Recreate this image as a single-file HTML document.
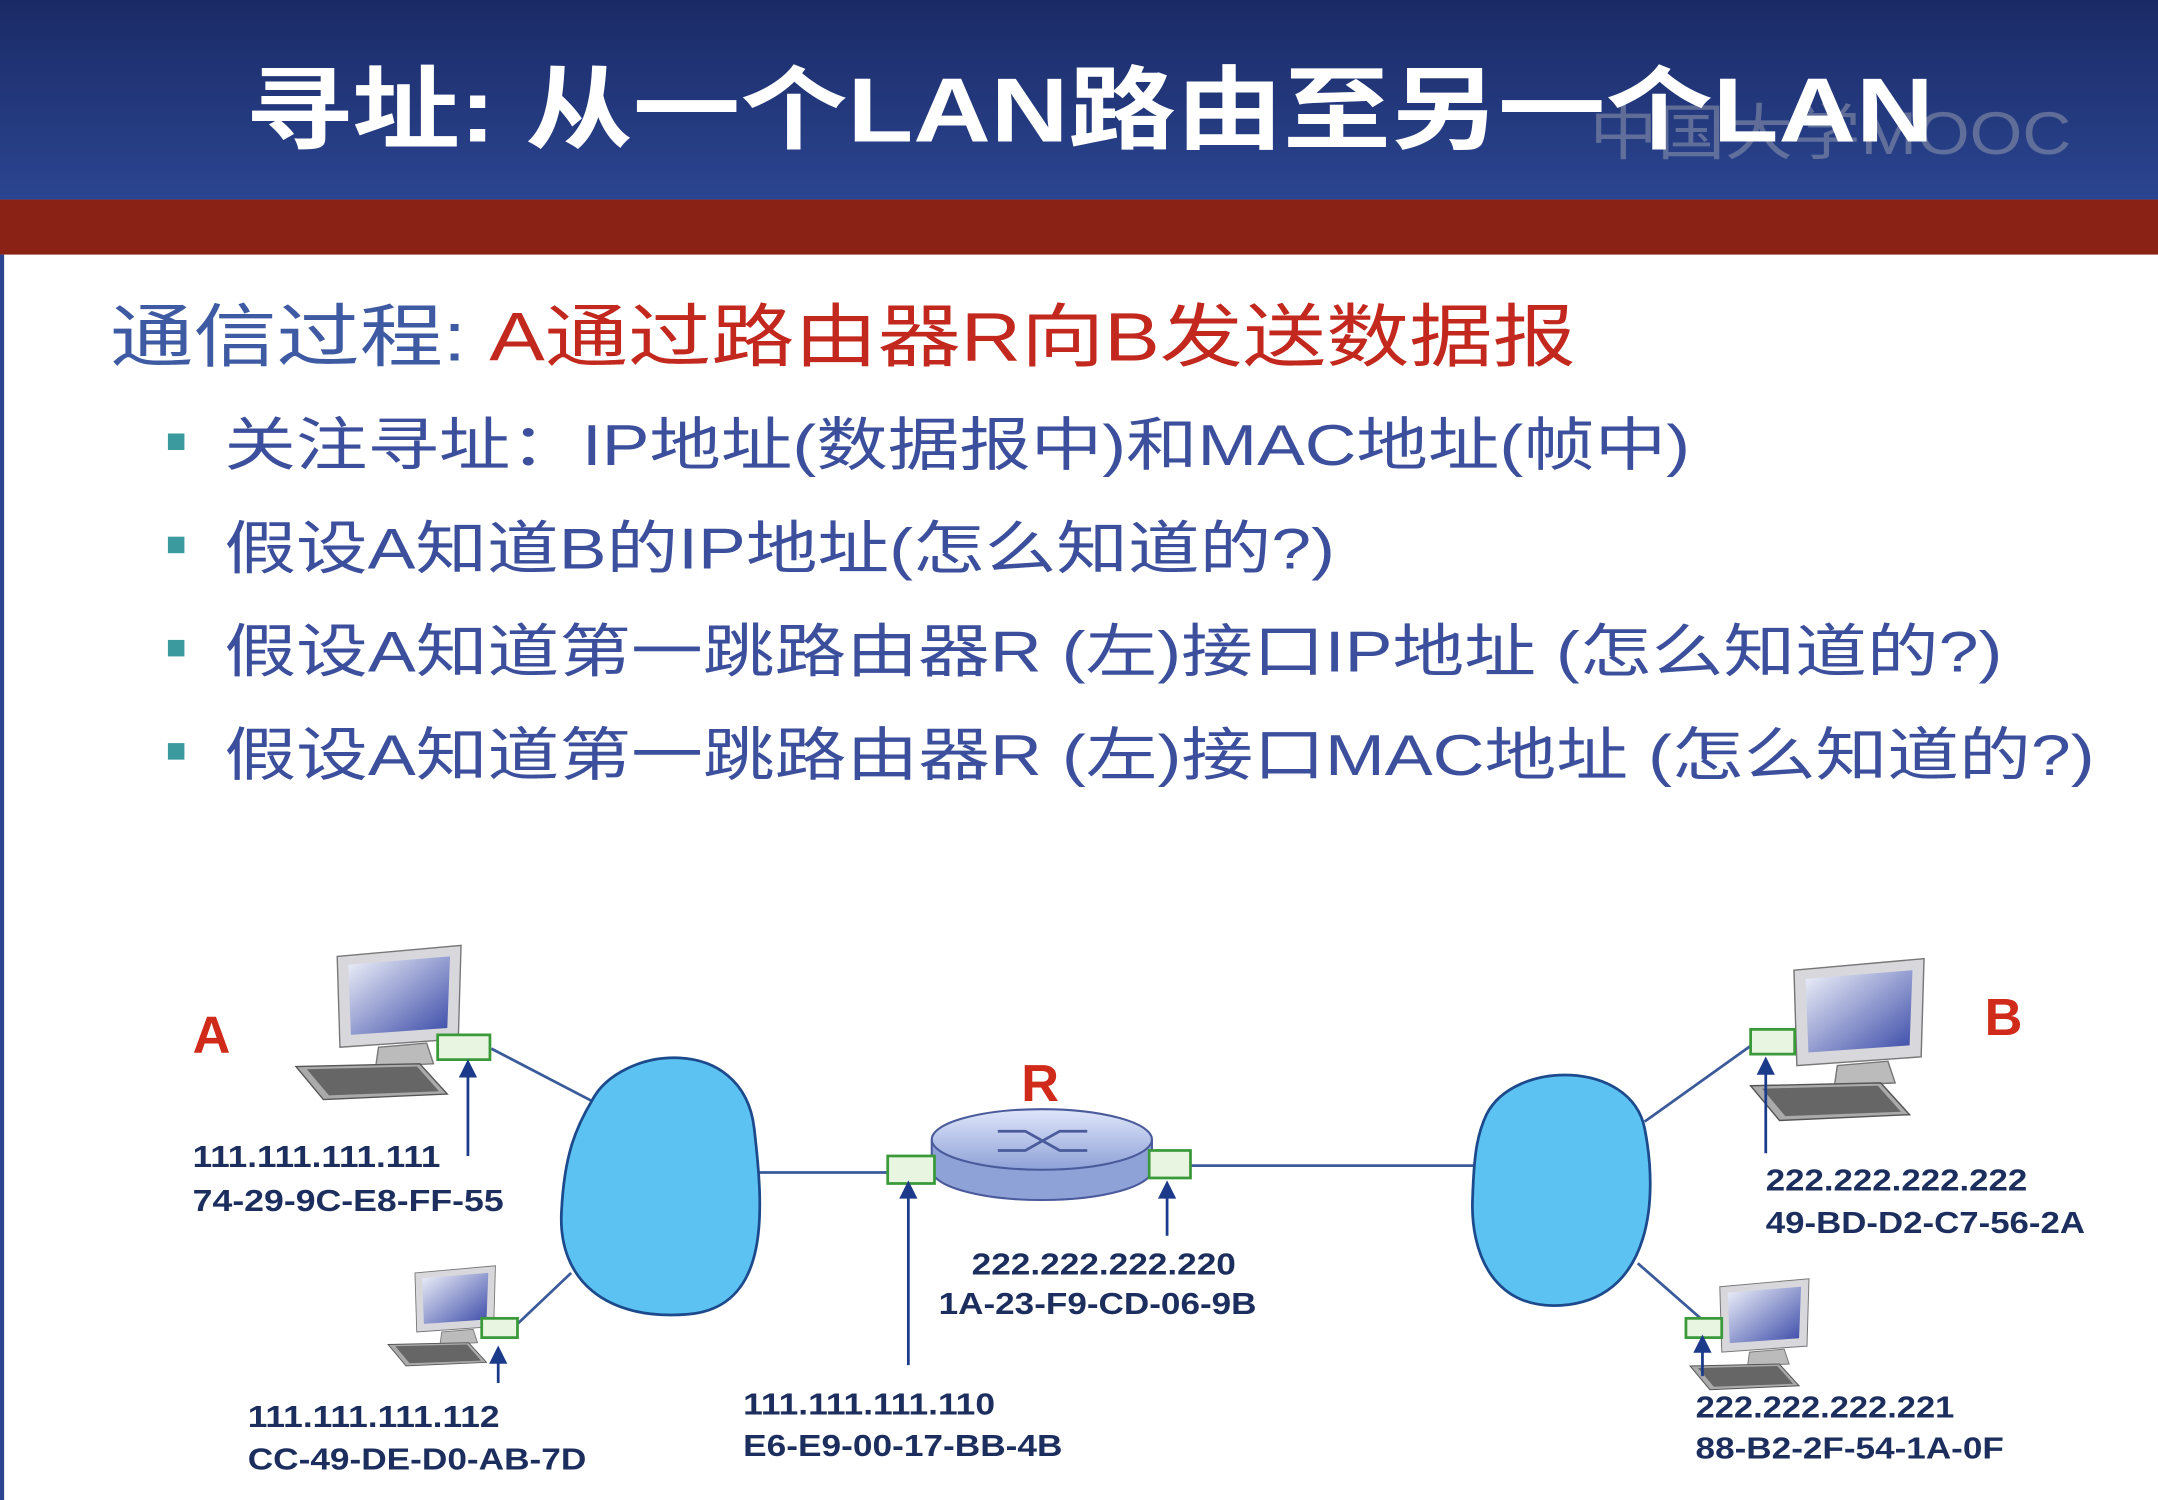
<!DOCTYPE html>
<html><head><meta charset="utf-8"><style>
html,body{margin:0;padding:0;background:#fff;}
svg{display:block;}
text{font-family:"Liberation Sans","Noto Sans CJK SC",sans-serif;}
</style></head><body>
<svg width="2158" height="1500" viewBox="0 0 1568 1090" preserveAspectRatio="none" xmlns="http://www.w3.org/2000/svg">
<defs>
<linearGradient id="hd" x1="0" y1="0" x2="0" y2="1"><stop offset="0" stop-color="#1a2a66"/><stop offset="1" stop-color="#2b4590"/></linearGradient>
<linearGradient id="scr" x1="0" y1="0" x2="1" y2="1"><stop offset="0" stop-color="#f0f2fa"/><stop offset="1" stop-color="#3a4aa8"/></linearGradient>
<linearGradient id="rt" x1="0" y1="0" x2="0" y2="1"><stop offset="0" stop-color="#dfe6fa"/><stop offset="1" stop-color="#8fa2d8"/></linearGradient>
<g id="pc">
<polygon points="30,0 120,-8 118,60 32,66" fill="#d8d8dc" stroke="#777"/>
<polygon points="38,6 112,0 110,52 40,57" fill="url(#scr)"/>
<polygon points="60,66 95,63 100,78 58,80" fill="#bbb" stroke="#777"/>
<polygon points="0,80 90,78 110,100 20,104" fill="#aaa" stroke="#555"/>
<polygon points="8,82 88,80 104,98 24,101" fill="#666"/>
</g>
</defs>
<rect width="1568" height="1090" fill="#fff"/>
<rect width="1568" height="145" fill="url(#hd)"/>
<rect y="145" width="1568" height="40" fill="#8a2215"/>
<text x="1155" y="112" font-size="44" fill="#9aa0b0" opacity="0.5" textLength="350" lengthAdjust="spacingAndGlyphs">中国大学MOOC</text>
<text x="178" y="103" font-size="66" font-weight="bold" fill="#fff" textLength="1227" lengthAdjust="spacingAndGlyphs">寻址: 从一个LAN路由至另一个LAN</text>
<rect x="0" y="185" width="3" height="905" fill="#2b4590"/>
<text x="80" y="262" font-size="50" textLength="1065" lengthAdjust="spacingAndGlyphs"><tspan fill="#3d5aa2">通信过程: </tspan><tspan fill="#c2281d">A通过路由器R向B发送数据报</tspan></text>
<g fill="#3a9a9e"><rect x="122" y="315" width="12" height="12"/><rect x="122" y="390" width="12" height="12"/><rect x="122" y="465" width="12" height="12"/><rect x="122" y="540" width="12" height="12"/></g>
<g font-size="42" fill="#3b4f9c">
<text x="163" y="338" textLength="1065" lengthAdjust="spacingAndGlyphs">关注寻址：IP地址(数据报中)和MAC地址(帧中)</text>
<text x="163" y="413" textLength="807" lengthAdjust="spacingAndGlyphs">假设A知道B的IP地址(怎么知道的?)</text>
<text x="163" y="488" textLength="1292" lengthAdjust="spacingAndGlyphs">假设A知道第一跳路由器R (左)接口IP地址 (怎么知道的?)</text>
<text x="163" y="563" textLength="1359" lengthAdjust="spacingAndGlyphs">假设A知道第一跳路由器R (左)接口MAC地址 (怎么知道的?)</text>
</g>
<g stroke="#3a5a9a" stroke-width="2" fill="none">
<line x1="548" y1="852" x2="645" y2="852"/>
<line x1="865" y1="847" x2="1072" y2="847"/>
<line x1="357" y1="762" x2="430" y2="800"/>
<line x1="376" y1="962" x2="415" y2="925"/>
<line x1="1272" y1="760" x2="1195" y2="815"/>
<line x1="1238" y1="960" x2="1190" y2="918"/>
</g>
<path d="M430,800 C450,760 540,750 548,820 C555,880 560,950 500,955 C440,960 405,930 408,880 C410,840 418,820 430,800Z" fill="#5cc2f2" stroke="#1c4a8c" stroke-width="2"/>
<path d="M1080,810 C1100,770 1185,770 1195,820 C1205,870 1200,940 1140,948 C1085,955 1068,910 1070,870 C1071,840 1073,825 1080,810Z" fill="#5cc2f2" stroke="#1c4a8c" stroke-width="2"/>
<use href="#pc" x="215" y="695"/>
<use href="#pc" transform="translate(282,925) scale(0.65)"/>
<use href="#pc" transform="translate(1272,705) scale(1.05)"/>
<use href="#pc" transform="translate(1228,935) scale(0.72)"/>
<path d="M677,828 L677,850 A80,22 0 0 0 837,850 L837,828" fill="#8fa2d8" stroke="#4a5a9a" stroke-width="1.5"/>
<ellipse cx="757" cy="828" rx="80" ry="22" fill="url(#rt)" stroke="#4a5a9a" stroke-width="1.5"/>
<path d="M725,822 L745,822 L770,836 L790,836 M725,836 L745,836 L770,822 L790,822" stroke="#4a5a9a" stroke-width="2" fill="none"/>
<g fill="#e8f5e0" stroke="#3a9a3a" stroke-width="2">
<rect x="645" y="840" width="34" height="20"/><rect x="835" y="836" width="30" height="20"/>
<rect x="318" y="752" width="38" height="18"/><rect x="350" y="958" width="26" height="14"/>
<rect x="1272" y="748" width="32" height="18"/><rect x="1225" y="958" width="26" height="14"/>
</g>
<g stroke="#1c3a8a" stroke-width="2" fill="#1c3a8a">
<line x1="340" y1="840" x2="340" y2="780"/><polygon points="335,782 345,782 340,772"/>
<line x1="362" y1="1005" x2="362" y2="988"/><polygon points="357,990 367,990 362,980"/>
<line x1="660" y1="992" x2="660" y2="868"/><polygon points="655,870 665,870 660,860"/>
<line x1="848" y1="898" x2="848" y2="868"/><polygon points="843,870 853,870 848,860"/>
<line x1="1283" y1="838" x2="1283" y2="778"/><polygon points="1278,780 1288,780 1283,770"/>
<line x1="1237" y1="1000" x2="1237" y2="980"/><polygon points="1232,982 1242,982 1237,972"/>
</g>
<g font-size="22" font-weight="bold" fill="#1c2e5e" lengthAdjust="spacingAndGlyphs">
<text x="140" y="848" textLength="180" lengthAdjust="spacingAndGlyphs">111.111.111.111</text><text x="140" y="880" textLength="226" lengthAdjust="spacingAndGlyphs">74-29-9C-E8-FF-55</text>
<text x="180" y="1037" textLength="183" lengthAdjust="spacingAndGlyphs">111.111.111.112</text><text x="180" y="1068" textLength="246" lengthAdjust="spacingAndGlyphs">CC-49-DE-D0-AB-7D</text>
<text x="540" y="1028" textLength="183" lengthAdjust="spacingAndGlyphs">111.111.111.110</text><text x="540" y="1058" textLength="232" lengthAdjust="spacingAndGlyphs">E6-E9-00-17-BB-4B</text>
<text x="706" y="926" textLength="192" lengthAdjust="spacingAndGlyphs">222.222.222.220</text><text x="682" y="955" textLength="231" lengthAdjust="spacingAndGlyphs">1A-23-F9-CD-06-9B</text>
<text x="1283" y="865" textLength="190" lengthAdjust="spacingAndGlyphs">222.222.222.222</text><text x="1283" y="896" textLength="232" lengthAdjust="spacingAndGlyphs">49-BD-D2-C7-56-2A</text>
<text x="1232" y="1030" textLength="188" lengthAdjust="spacingAndGlyphs">222.222.222.221</text><text x="1232" y="1060" textLength="224" lengthAdjust="spacingAndGlyphs">88-B2-2F-54-1A-0F</text>
</g>
<g font-size="38" font-weight="bold" fill="#d02a1a">
<text x="140" y="765">A</text><text x="1442" y="752">B</text><text x="742" y="800">R</text>
</g>
</svg>
</body></html>
